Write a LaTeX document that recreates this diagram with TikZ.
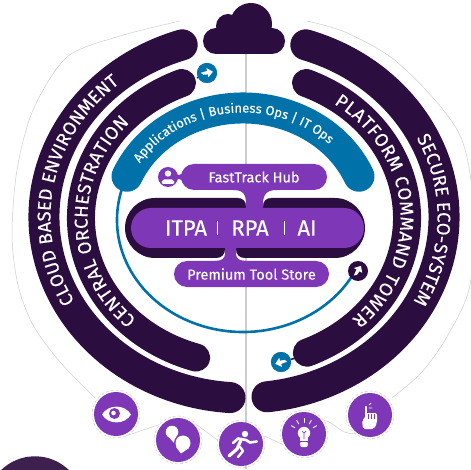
\documentclass[tikz,border=0pt]{standalone}
\usepackage{fontspec}
\setmainfont[FakeBold=0.25]{Fira Sans}
\usetikzlibrary{decorations.text}
\definecolor{dk}{HTML}{2C0D3F}
\definecolor{pur}{HTML}{7E38B7}
\definecolor{tl}{HTML}{0071A9}
\definecolor{ringg}{HTML}{CFCFD4}
\definecolor{vline}{HTML}{CDCDCD}
\tikzset{
  band/.style={draw=dk,line cap=round},
  pill/.style={rectangle,fill=pur,text=white,inner sep=0pt,outer sep=0pt},
  ringline/.style={draw=ringg,line width=.5pt},
  iconfill/.style={circle,fill=pur,minimum size=44pt,inner sep=0pt,outer sep=0pt},
  iconring/.style={circle,draw=ringg,line width=.5pt,densely dashed,minimum size=48pt,inner sep=0pt,outer sep=0pt},
  badge/.style={circle,minimum size=20pt,inner sep=0pt,outer sep=0pt},
  wl/.style={draw=white,line cap=round,line join=round},
  arctext/.style={decorate,decoration={text along path,text format delimiters={[}{]},text align={fit to path},raise=#1}},
}
\newcommand{\ArrowIc}[3]{\fill[white,shift={(#1,#2)},rotate=#3] (6,0)--(0.5,-5)--(0.5,-2)--(-6,-1.5)--(-4,1)--(0.5,1.5)--(0.5,4.5)--cycle;}
\newfontface\arcf[FakeBold=0.25]{Fira Sans}
\begin{document}
\begin{tikzpicture}[x=1pt,y=1pt]
\useasboundingbox (0,0) rectangle (471,469);
\fill[white] (0,0) rectangle (471,469);
% vertical rule and dark partial disc
\draw[vline,line width=1.3pt] (246,0) -- (246,440);
\begin{scope}
\clip (0,0) rectangle (471,469);
\fill[dk!92!white] (35,-36) circle (48.7);
\end{scope}
% outer hairlines
\begin{scope}[shift={(0,469)},yscale=-1]
\draw[ringline] plot[smooth] coordinates {(180,21)(120,36)(67,57)(33,110)(17,170)(12,235)(18,285)(33,325)(60,362)(95,398)};
\draw[ringline] plot[smooth] coordinates {(307,21)(345,32)(392,58)(435,100)(462,140)(473,200)(470,285)(448,335)(422,372)(392,398)};
\end{scope}
% dark bands
\draw[band,line width=31pt] (244,252) ++(72:200pt and 181pt) arc[start angle=72,end angle=-83.4,x radius=200pt,y radius=181pt];
\draw[band,line width=31pt] (244,252) ++(108:200pt and 181pt) arc[start angle=108,end angle=266,x radius=200pt,y radius=181pt];
\draw[band,line width=28pt] (244,251) ++(67.6:163pt and 146pt) arc[start angle=67.6,end angle=-67.3,x radius=163pt,y radius=146pt];
\draw[band,line width=28pt] (244,251) ++(112.4:163pt and 146pt) arc[start angle=112.4,end angle=252.9,x radius=163pt,y radius=146pt];
% band texts
\path[arctext=-6.5pt,decoration={text={[\color{white}\arcf\fontsize{18.5}{18.5}\selectfont]CLOUD BASED ENVIRONMENT}}] (244,252) ++(209:200pt and 181pt) arc[start angle=209,end angle=130,x radius=200pt,y radius=181pt];
\path[arctext=-6.5pt,decoration={text={[\color{white}\arcf\fontsize{18.5}{18.5}\selectfont]SECURE ECO-SYSTEM}}] (244,252) ++(27:200pt and 181pt) arc[start angle=27,end angle=-29,x radius=200pt,y radius=181pt];
\path[arctext=-6.5pt,decoration={text={[\color{white}\arcf\fontsize{18.5}{18.5}\selectfont]CENTRAL ORCHESTRATION}}] (244,251) ++(226.6:163pt and 146pt) arc[start angle=226.6,end angle=137,x radius=163pt,y radius=146pt];
\path[arctext=-6.5pt,decoration={text={[\color{white}\arcf\fontsize{18.5}{18.5}\selectfont]PLATFORM COMMAND TOWER}}] (244,251) ++(55:163pt and 146pt) arc[start angle=55,end angle=-46.6,x radius=163pt,y radius=146pt];
% teal
\draw[tl,line width=2.6pt] (243,249) ++(157:126pt and 112pt) arc[start angle=157,end angle=336,x radius=126pt,y radius=112pt];
\draw[tl,line width=31pt,line cap=round] (243,249) ++(157:126pt and 112pt) arc[start angle=157,end angle=23,x radius=126pt,y radius=112pt];
\path[arctext=-4.5pt,decoration={text={[\color{white}\arcf\fontsize{13}{13}\selectfont]Applications | Business Ops | IT Ops}}] (243,249) ++(148:126pt and 112pt) arc[start angle=148,end angle=45,x radius=126pt,y radius=112pt];
\begin{scope}[shift={(0,469)},yscale=-1]
% core
\fill[dk,rounded corners=30pt] (125,198) rectangle (365,258);
\fill[white] (238,196) -- (246,196) -- (246,206) .. controls (246,201) and (243,198) .. (238,198) -- cycle;
\fill[white] (271,196) -- (263,196) -- (263,206) .. controls (263,201) and (266,198) .. (271,198) -- cycle;
\fill[white] (217,258) -- (225,258) -- (225,250) .. controls (225,254) and (222,258) .. (217,258) -- cycle;
\fill[white] (244,258) -- (236,258) -- (236,250) .. controls (236,254) and (239,258) .. (244,258) -- cycle;
\node[pill,minimum width=233pt,minimum height=40pt,rounded corners=20pt] (core) at (247.5,228) {};
\node[pill,minimum width=146pt,minimum height=26pt,rounded corners=13pt,font=\fontsize{14.5}{14.5}\selectfont] (hub) at (254,177) {FastTrack Hub};
\node[pill,minimum width=155pt,minimum height=26pt,rounded corners=13pt,font=\fontsize{14.5}{14.5}\selectfont] (store) at (251.5,274) {Premium Tool Store};
\fill[pur] (233,190) .. controls (243,190) and (246,194) .. (246,204) -- (246,212) -- (263,212) -- (263,204) .. controls (263,194) and (267,190) .. (277,190) -- cycle;
\fill[pur] (225,246) -- (225,254) .. controls (225,258) and (222,261) .. (215,261) -- (246,261) .. controls (239,261) and (236,258) .. (236,254) -- (236,246) -- cycle;
\node[font=\fontsize{22}{22}\selectfont,text=white,inner sep=0pt] (itpa) at (186,228) {ITPA};
\node[font=\fontsize{22}{22}\selectfont,text=white,inner sep=0pt] (rpa) at (250,228) {RPA};
\node[font=\fontsize{22}{22}\selectfont,text=white,inner sep=0pt] (ai) at (307,228) {AI};
\draw[white,line width=.7pt] (217,221) -- (217,235) (284,221) -- (284,235);
% user badge
\node[badge,fill=pur] (user) at (168,177) {};
\fill[pur] (176,174) .. controls (178,175.5) and (179,175.5) .. (183,173) -- (183,181) .. controls (179,178.5) and (178,178.5) .. (176,180) -- cycle;
\fill[white] (168,173.5) circle (3.2);
\fill[white,rounded corners=2pt] (161.5,184) -- (162,179.5) -- (174,179.5) -- (174.5,184) -- cycle;
% arrow badges
\coordinate (innerTL) at (197,78);
\coordinate (innerBR) at (296,358);
\node[badge,fill=tl] (tlA) at (207,73) {};
\node[badge,fill=tl] (tlB) at (281,362) {};
\node[badge,fill=dk] (dkA) at (358,271) {};
\draw[dk,line width=1.5pt] (tlA) -- (innerTL);
\draw[dk,line width=1.5pt] (tlB) -- (innerBR);
\node[badge,fill=tl] at (207,73) {};
\node[badge,fill=tl] at (281,362) {};
\ArrowIc{207}{73}{-12}
\ArrowIc{281}{362}{162}
\ArrowIc{358}{271}{-60}
% cloud
\fill[dk] (216,41) circle (13) (228,26) circle (12) (251,24) circle (21) (272,41) circle (13);
\fill[dk] (216,30) rectangle (272,54);
% icons
\node[iconring] (eyeR) at (116,414) {};
\node[iconring] (bubR) at (178,440) {};
\node[iconring] (runR) at (241,444) {};
\node[iconring] (bulbR) at (304,434) {};
\node[iconring] (handR) at (370,415) {};
\draw[ringline] (eyeR.-65) -- (bubR.140);
\draw[ringline] (bubR.40) -- (runR.170);
\draw[ringline] (runR.20) -- (bulbR.205);
\draw[ringline] (bulbR.35) .. controls (335,422) and (340,435) .. (handR.230);
\node[iconfill] at (116,414) {};
\node[iconfill] at (178,440) {};
\node[iconfill] at (241,444) {};
\node[iconfill] at (304,434) {};
\node[iconfill] at (370,415) {};
% eye
\fill[white] (102,414.5) .. controls (108,404) and (125,404) .. (131,414.5) .. controls (125,425) and (108,425) .. (102,414.5) -- cycle;
\fill[pur] (114.5,413.5) circle (5.5);
\fill[white] (113.5,413) circle (2.3);
% bubbles
\fill[white] (172,432) circle (6.3);
\fill[white] (167,435) -- (174,443) -- (177,435) -- cycle;
\fill[pur] (183,443) circle (9);
\fill[white] (183,443) circle (7.5);
\fill[white] (176,447) -- (181,453.5) -- (189,448) -- cycle;
% runner
\fill[white] (245,434) circle (3.2);
\draw[wl,line width=2.6pt] (233,443) -- (238,438.5) -- (246,440) -- (250,442.5) -- (257,441.5);
\draw[wl,line width=3.2pt] (241,440) -- (237,449) -- (229,456);
\draw[wl,line width=2.4pt] (240,447) -- (243,451) -- (238,457);
% bulb
\fill[white] (304,433) circle (6.2);
\fill[white] (300,437) rectangle (308,441);
\fill[white,rounded corners=1pt] (300,442) -- (308,442) -- (307.5,447) -- (300.5,447) -- cycle;
\draw[pur,line width=.7pt] (304,439) -- (304,433) (302,431) -- (304,433) -- (306,431);
\foreach \a in {30,60,90,120,150}{\draw[wl,line width=.9pt] (304,433) ++(-\a:10.5) -- ++(-\a:4);}
% hand
\draw[wl,line width=2.4pt] (366,418) -- (366,407);
\fill[white,rounded corners=2pt] (363,429) -- (362,420) -- (365,419) -- (365,413) -- (377,413) -- (377,423) -- (374,429) -- cycle;
\draw[pur,line width=.4pt] (368.5,414) -- (368.5,419) (371.5,414) -- (371.5,419) (374.5,414) -- (374.5,419);
\draw[wl,line width=.7pt] (369,405) -- (371,403) (369,408) -- (372,408);
\end{scope}
\end{tikzpicture}
\end{document}
